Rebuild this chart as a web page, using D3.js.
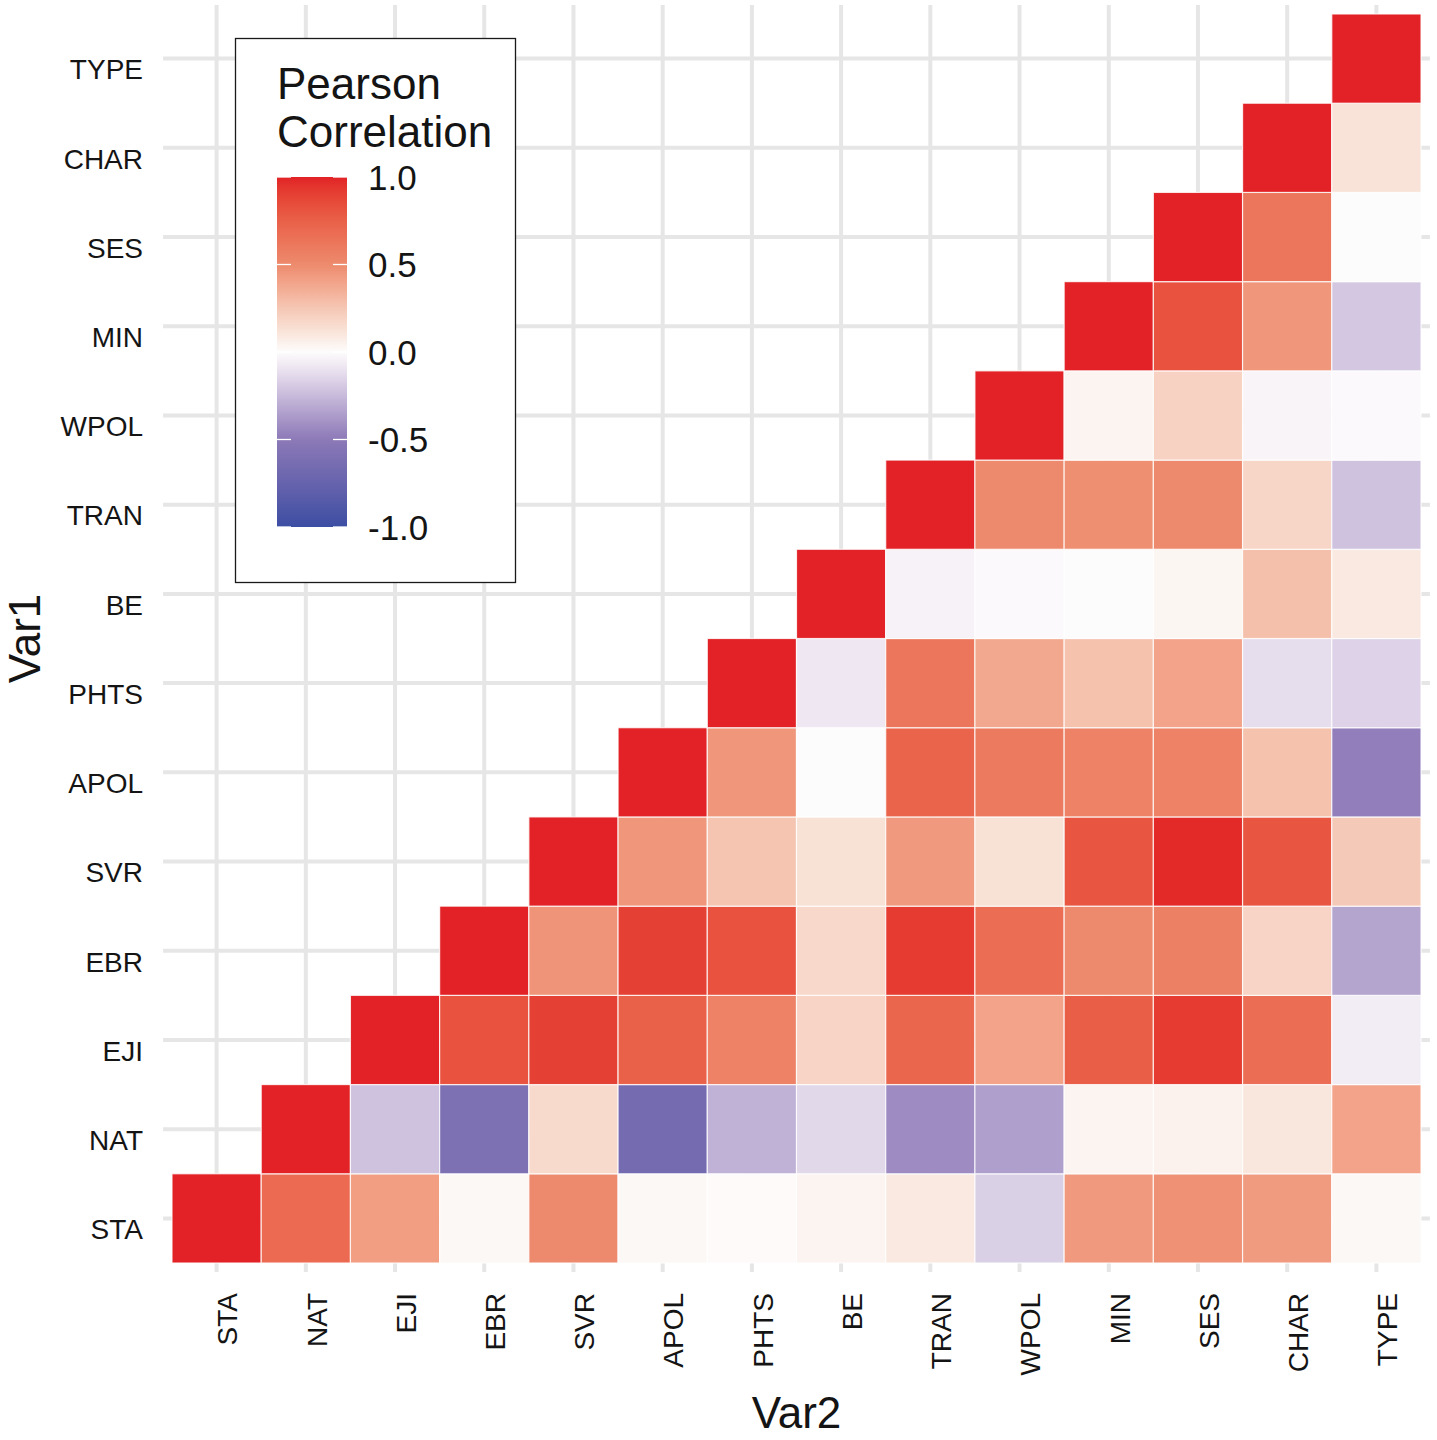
<!DOCTYPE html>
<html><head><meta charset="utf-8">
<script src="https://cdn.jsdelivr.net/npm/d3@7"></script>
<style>body{margin:0;background:#fff;} text{font-family:"Liberation Sans", Arial, Helvetica, sans-serif;fill:#141414;}</style>
</head><body><svg id="chart" width="1437" height="1440"></svg>
<script>
// ---- data ----
const variables = ["STA","NAT","EJI","EBR","SVR","APOL","PHTS","BE","TRAN","WPOL","MIN","SES","CHAR","TYPE"];
// each row: correlations of Var1 with Var2 from the diagonal onwards (upper triangle)
const rowSTA  = [1, 0.69, 0.42, 0.02, 0.50, 0.02, 0.01, 0.04, 0.09, -0.17, 0.44, 0.47, 0.43, 0.02];
const rowNAT  = [1, -0.22, -0.60, 0.16, -0.66, -0.28, -0.14, -0.43, -0.35, 0.04, 0.05, 0.10, 0.40];
const rowEJI  = [1, 0.82, 0.90, 0.74, 0.55, 0.19, 0.71, 0.40, 0.76, 0.92, 0.67, -0.06];
const rowEBR  = [1, 0.46, 0.90, 0.82, 0.17, 0.92, 0.67, 0.50, 0.56, 0.19, -0.33];
const rowSVR  = [1, 0.45, 0.26, 0.13, 0.44, 0.13, 0.80, 0.98, 0.80, 0.24];
const rowAPOL = [1, 0.45, 0.00, 0.73, 0.60, 0.55, 0.55, 0.27, -0.48];
const rowPHTS = [1, -0.08, 0.62, 0.38, 0.27, 0.40, -0.12, -0.16];
const rowBE   = [1, -0.04, -0.01, 0.00, 0.03, 0.28, 0.09];
const rowTRAN = [1, 0.50, 0.48, 0.50, 0.18, -0.22];
const rowWPOL = [1, 0.04, 0.20, -0.03, -0.01];
const rowMIN  = [1, 0.82, 0.45, -0.20];
const rowSES  = [1, 0.62, 0.00];
const rowCHAR = [1, 0.12];
const rowTYPE = [1];
const corrRows = [rowSTA,rowNAT,rowEJI,rowEBR,rowSVR,rowAPOL,rowPHTS,rowBE,rowTRAN,rowWPOL,rowMIN,rowSES,rowCHAR,rowTYPE];
const legendTicks = [1.0, 0.5, 0.0, -0.5, -1.0];
const legendTitle = ["Pearson", "Correlation"];
const xTitle = "Var2", yTitle = "Var1";

// ---- build ----
const cells = [];
corrRows.forEach((row, i) => row.forEach((v, k) => cells.push({var1: variables[i], var2: variables[i + k], value: v})));

const svg = d3.select("#chart");
svg.append("rect").attr("width", 1437).attr("height", 1440).attr("fill", "#fff");

const x = d3.scaleBand().domain(variables).range([172, 1421]);
const y = d3.scaleBand().domain(variables.slice().reverse()).range([14, 1263]);
const pad = x.step() * 0.1;
const panel = {l: 172 - pad, r: 1421 + pad, t: 14 - pad, b: 1263 + pad};

const color = d3.scaleLinear()
  .domain([-1, -0.5, -0.1, 0, 0.1, 0.25, 0.5, 1])
  .range(["#3b4ea3", "#8c79b7", "#ebe3f0", "#fdfcfc", "#f9e7de", "#f5c7b4", "#ed8a6d", "#e22226"])
  .interpolate(d3.interpolateLab)
  .clamp(true);

// gridlines
const grid = svg.append("g").attr("stroke", "#e6e6e6").attr("stroke-width", 4);
grid.selectAll("line.v").data(variables).join("line").attr("class", "v")
  .attr("x1", d => x(d) + x.bandwidth() / 2).attr("x2", d => x(d) + x.bandwidth() / 2)
  .attr("y1", panel.t).attr("y2", panel.b);
grid.selectAll("line.h").data(variables).join("line").attr("class", "h")
  .attr("y1", d => y(d) + y.bandwidth() / 2).attr("y2", d => y(d) + y.bandwidth() / 2)
  .attr("x1", panel.l).attr("x2", panel.r);

// tiles
svg.append("g").selectAll("rect").data(cells).join("rect")
  .attr("x", d => x(d.var2)).attr("y", d => y(d.var1))
  .attr("width", x.bandwidth()).attr("height", y.bandwidth())
  .attr("fill", d => color(d.value))
  .attr("stroke", "#ffffff").attr("stroke-opacity", 0.8).attr("stroke-width", 1.2);

// axis labels
svg.append("g").selectAll("text").data(variables).join("text")
  .attr("transform", d => `translate(${x(d) + x.bandwidth() / 2 + 11},1293) rotate(-90)`)
  .attr("text-anchor", "end").attr("dy", "0.35em")
  .attr("font-size", 28).text(d => d);
svg.append("g").selectAll("text").data(variables).join("text")
  .attr("x", 143).attr("y", d => y(d) + y.bandwidth() / 2 + 11)
  .attr("text-anchor", "end").attr("dy", "0.35em")
  .attr("font-size", 28).text(d => d);

// axis titles
svg.append("text").attr("x", (panel.l + panel.r) / 2).attr("y", 1428)
  .attr("text-anchor", "middle").attr("font-size", 44).text(xTitle);
svg.append("text").attr("transform", `translate(40,${(panel.t + panel.b) / 2}) rotate(-90)`)
  .attr("text-anchor", "middle").attr("font-size", 44).text(yTitle);

// legend
const lg = svg.append("g");
lg.append("rect").attr("x", 235.5).attr("y", 38.5).attr("width", 280).attr("height", 544)
  .attr("fill", "#fff").attr("stroke", "#1a1a1a").attr("stroke-width", 1.3);
lg.selectAll("text.title").data(legendTitle).join("text").attr("class", "title")
  .attr("x", 277).attr("y", (d, i) => 99 + i * 48).attr("font-size", 44).text(d => d);

const ly = d3.scaleLinear().domain([-1, 1]).range([527, 177]);
const defs = svg.append("defs");
const grad = defs.append("linearGradient").attr("id", "lgrad")
  .attr("x1", 0).attr("y1", 1).attr("x2", 0).attr("y2", 0);
d3.range(0, 1.0001, 0.02).forEach(t => {
  grad.append("stop").attr("offset", t).attr("stop-color", color(-1 + 2 * t));
});
lg.append("rect").attr("x", 277).attr("y", ly(1)).attr("width", 70).attr("height", ly(-1) - ly(1))
  .attr("fill", "url(#lgrad)");
const ticksG = lg.append("g").attr("stroke", "#ffffff").attr("stroke-width", 1.3);
legendTicks.forEach(v => {
  ticksG.append("line").attr("x1", 277).attr("x2", 291).attr("y1", ly(v)).attr("y2", ly(v));
  ticksG.append("line").attr("x1", 333).attr("x2", 347).attr("y1", ly(v)).attr("y2", ly(v));
});
const fmt = d3.formatLocale({decimal: ".", thousands: ",", grouping: [3], currency: ["", ""], minus: "-"}).format(".1f");
lg.selectAll("text.tick").data(legendTicks).join("text").attr("class", "tick")
  .attr("x", 368).attr("y", d => ly(d)).attr("dy", "0.36em")
  .attr("font-size", 35).text(d => fmt(d));
</script></body></html>
